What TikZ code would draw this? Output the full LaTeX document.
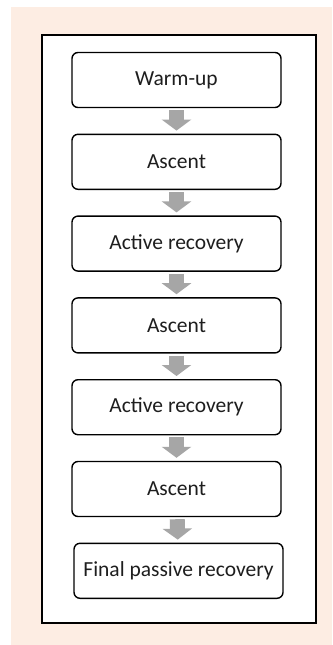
\documentclass[tikz,border=0pt]{standalone}
\usepackage{fontspec}
\setmainfont{Carlito}
\usepackage{tikz}
\usetikzlibrary{positioning}
\usetikzlibrary{arrows.meta}
\definecolor{peach}{RGB}{253,237,227}
\definecolor{arrowgray}{RGB}{166,166,166}
\definecolor{textdark}{RGB}{30,30,30}

\begin{document}
\begin{tikzpicture}[x=1pt,y=-1pt,
    phase/.style={draw, line width=1.4pt, rounded corners=6pt, fill=white,
      minimum width=209pt, minimum height=55pt, text=textdark,
      font=\fontsize{21.5}{24}\selectfont},
    flowarrow/.style={draw=arrowgray, line width=15pt,
      -{Triangle[width=29pt,length=11pt]}, shorten <=2pt, shorten >=3pt},
    node distance=25.4pt]
                \useasboundingbox (0,0) rectangle (332,645);
                \fill[peach] (11,7) rectangle (332,645);
                \draw[line width=2pt, fill=white] (41.7,35) rectangle (316,623);
                \node[phase] (warmup) at (176.5,80) {Warm-up};
                \node[phase, below=of warmup] (ascent1) {Ascent};
                \node[phase, below=of ascent1] (active1) {Active recovery};
                \node[phase, below=of active1] (ascent2) {Ascent};
                \node[phase, below=of ascent2] (active2) {Active recovery};
                \node[phase, below=of active2] (ascent3) {Ascent};
                \node[phase, below=of ascent3, xshift=2pt] (final) {Final passive recovery};
                \foreach \a/\b in {warmup/ascent1, ascent1/active1, active1/ascent2,
                  ascent2/active2, active2/ascent3, ascent3/final}
                  \draw[flowarrow] (\a) -- (\b);
              \end{tikzpicture}
\end{document}
